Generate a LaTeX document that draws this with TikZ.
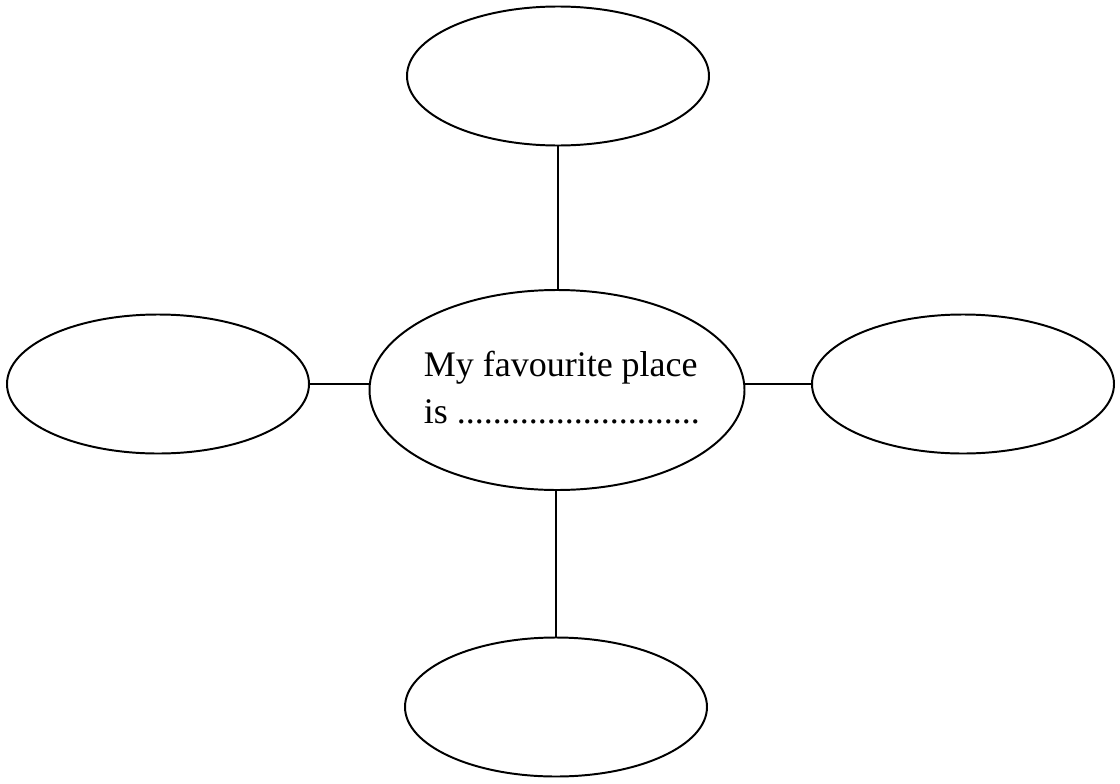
\documentclass[tikz,border=0pt]{standalone}
\usepackage{fontspec}
\setmainfont{Liberation Serif}
\usepackage{tikz}
\usetikzlibrary{shapes.geometric, positioning}

\begin{document}
\begin{tikzpicture}[
    bubble/.style={draw, line width=1.4pt, ellipse, minimum width=7.55cm, minimum height=3.475cm, inner sep=0pt},
    hub/.style={draw, line width=1.4pt, ellipse, minimum width=9.375cm, minimum height=5cm, inner sep=0pt},
    words/.style={align=left, inner sep=0pt, font=\fontsize{25.6}{33.4}\selectfont},
    link/.style={draw, line width=1.4pt}
]
    \useasboundingbox (0,0) rectangle (28,-19.6);

    % Centre
    \node[hub] (centre) at (13.925,-9.75) {};
    \node[words] (centretext) at ([xshift=0.12cm,yshift=0.05cm]centre.center) {My favourite place\\is ...........................};

    % Outer bubbles
    \node[bubble] (top) at (13.95,-1.9) {};
    \node[bubble] (left) at (3.95,-9.6) {};
    \node[bubble] (right) at (24.075,-9.6) {};
    \node[bubble] (bottom) at (13.9,-17.675) {};

    % Connections
    \draw[link] (top.south) -- (top.south |- centre.north);
    \draw[link] (left.east) -- (centre.west |- left.east);
    \draw[link] (centre.east |- right.west) -- (right.west);
    \draw[link] (centre.south) -- (centre.south -| bottom.north) -- (bottom.north);
\end{tikzpicture}
\end{document}
